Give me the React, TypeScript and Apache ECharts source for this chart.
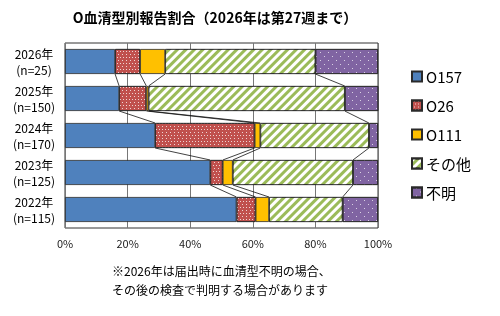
import React, { useEffect, useRef } from "react";
import * as echarts from "echarts";

const years = ["2026年", "2025年", "2024年", "2023年", "2022年"];
const counts = [25, 150, 170, 125, 115];
const seriesNames = ["O157", "O26", "O111", "その他", "不明"];
const o157 = [16, 17.3, 28.8, 46.4, 54.8];
const o26 = [8, 8.7, 31.8, 4, 6.1];
const o111 = [8, 0.7, 1.8, 3.2, 4.3];
const other = [48, 62.7, 34.7, 38.4, 23.5];
const unknown = [20, 10.7, 2.9, 8, 11.3];
const xTicks = [0, 20, 40, 60, 80, 100];
const titleText = "O血清型別報告割合（2026年は第27週まで）";
const noteLines = ["※2026年は届出時に血清型不明の場合、", "その後の検査で判明する場合があります"];

const FONT = "'Noto Sans CJK JP', 'Noto Sans', sans-serif";

export default function App() {
  const ref = useRef<HTMLDivElement>(null);
  useEffect(() => {
    if (!ref.current) return;
    const chart = echarts.init(ref.current, undefined, { renderer: "svg" });
    const categories = years.map((y, i) => `${y}\n(n=${counts[i]})`);
    const all = [o157, o26, o111, other, unknown];
    const cum = years.map((_, i) => {
      let s = 0;
      return all.map((arr) => (s += arr[i]));
    });
    const lineData: number[][] = [];
    for (let i = 0; i < years.length - 1; i++) {
      for (let k = 0; k < 4; k++) {
        lineData.push([cum[i][k], cum[i + 1][k], i]);
      }
    }
    const barW = 25;
    const border = { borderColor: "#2a2a2a", borderWidth: 0.8 };
    const styles = [
      { color: "#4F81BD", ...border },
      {
        color: "#C0504D",
        ...border,
        decal: {
          symbol: "rect",
          symbolSize: 1,
          color: "rgba(255,255,255,0.75)",
          dashArrayX: [[1, 2], [0, 1.5, 1, 0.5]],
          dashArrayY: [1, 1.5],
        },
      },
      { color: "#FFC000", ...border },
      {
        color: "#9BBB59",
        ...border,
        decal: {
          symbol: "rect",
          symbolSize: 1,
          color: "#ffffff",
          dashArrayX: [1, 0],
          dashArrayY: [3, 2.5],
          rotation: -Math.PI / 4,
        },
      },
      {
        color: "#8064A2",
        ...border,
        decal: {
          symbol: "rect",
          symbolSize: 1,
          color: "rgba(255,255,255,0.7)",
          dashArrayX: [[1, 7], [0, 4, 1, 3]],
          dashArrayY: [1, 3],
        },
      },
    ];
    const barSeries = all.map((arr, si) => ({
      name: seriesNames[si],
      type: "bar",
      stack: "total",
      barWidth: barW,
      data: arr,
      itemStyle: styles[si],
    }));
    chart.setOption({
      animation: false,
      textStyle: { fontFamily: FONT },
      grid: {
        left: 65,
        right: 122,
        top: 43,
        bottom: 88,
        show: true,
        borderColor: "#333",
        borderWidth: 1,
        backgroundColor: "transparent",
      },
      legend: {
        orient: "vertical",
        left: 406,
        top: 64,
        itemWidth: 10,
        itemHeight: 10,
        itemGap: 14,
        icon: "rect",
        data: seriesNames,
        textStyle: { fontSize: 15, color: "#000", fontFamily: FONT, padding: [0, 0, 0, -1] },
      },
      xAxis: {
        type: "value",
        min: 0,
        max: 100,
        interval: 20,
        axisLine: { show: false },
        axisTick: { show: false },
        splitLine: { show: true, lineStyle: { color: "#777", width: 1 } },
        axisLabel: {
          formatter: (v: number) => (xTicks.includes(v) ? `${v}%` : ""),
          fontSize: 11,
          color: "#222",
          margin: 9,
          fontFamily: FONT,
        },
      },
      yAxis: {
        type: "category",
        inverse: true,
        data: categories,
        axisLine: { show: false },
        axisTick: { show: false },
        axisLabel: {
          fontSize: 12,
          lineHeight: 16,
          align: "center",
          margin: 31,
          color: "#000",
          fontFamily: FONT,
        },
      },
      series: [
        ...barSeries,
        {
          type: "custom",
          name: "serieslines",
          data: lineData,
          encode: { x: [0, 1], y: 2 },
          silent: true,
          z: 5,
          renderItem: (params: any, api: any) => {
            const x1 = api.value(0);
            const x2 = api.value(1);
            const c = api.value(2);
            const p1 = api.coord([x1, c]);
            const p2 = api.coord([x2, c + 1]);
            const h = barW / 2;
            return {
              type: "line",
              shape: { x1: p1[0], y1: p1[1] + h, x2: p2[0], y2: p2[1] - h },
              style: { stroke: "#111", lineWidth: 0.8 },
            };
          },
        },
      ],
      graphic: [
        {
          type: "text",
          style: {
            text: titleText,
            x: 215,
            y: 17,
            textAlign: "center",
            textVerticalAlign: "middle",
            font: `bold 14px ${FONT}`,
            fill: "#000",
          },
        },
        {
          type: "text",
          style: {
            text: noteLines[0],
            x: 112,
            y: 270,
            textAlign: "left",
            textVerticalAlign: "middle",
            font: `12px ${FONT}`,
            fill: "#000",
          },
        },
        {
          type: "text",
          style: {
            text: noteLines[1],
            x: 112,
            y: 289,
            textAlign: "left",
            textVerticalAlign: "middle",
            font: `12px ${FONT}`,
            fill: "#000",
          },
        },
      ],
    });
    return () => chart.dispose();
  }, []);
  return (
    <div
      ref={ref}
      style={{ position: "fixed", left: 0, top: 0, width: 500, height: 316 }}
    />
  );
}
